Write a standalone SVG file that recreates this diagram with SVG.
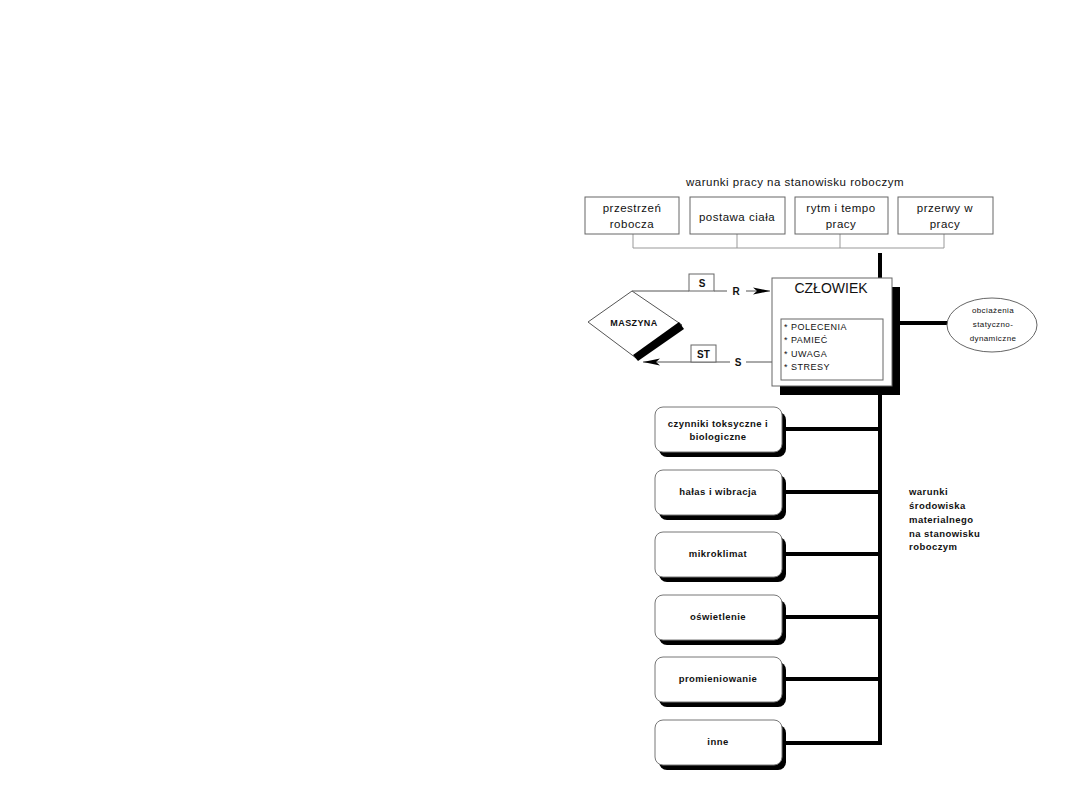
<svg xmlns="http://www.w3.org/2000/svg" width="1080" height="810" viewBox="0 0 1080 810">
<style>
.t{font-family:"Liberation Sans",Arial,sans-serif;fill:#111}
.reg{font-size:11.5px;letter-spacing:0.5px}
.lst{font-size:9px;letter-spacing:0.5px}
.b{font-weight:bold;font-size:9.5px;letter-spacing:0.45px}
.box{fill:#fff;stroke:#666;stroke-width:1}
.rbox{fill:#fff;stroke:#777;stroke-width:1}
.sh{fill:#000}
.thin{stroke:#999;stroke-width:1;fill:none}
.thick{stroke:#000;stroke-width:4;fill:none}
.ln{stroke:#555;stroke-width:1;fill:none}
</style>
<defs>
<marker id="arr" viewBox="0 0 18 8" refX="17" refY="4" markerWidth="18" markerHeight="8" markerUnits="userSpaceOnUse" orient="auto">
<path d="M0,0.5 L17,4 L0,7.5 L4,4 Z" fill="#000"/>
</marker>
</defs>
<rect width="1080" height="810" fill="#fff"/>

<text class="t reg" x="795" y="186" text-anchor="middle">warunki pracy na stanowisku roboczym</text>

<g id="connectors">
<path class="thin" d="M633,234 V248 H944 V234 M737,234 V248 M840,234 V248"/>
<path class="thick" d="M880,253 V743 H782"/>
<path class="thick" d="M782,429 H880 M782,492 H880 M782,554 H880 M782,617 H880 M782,679 H880"/>
<path class="thick" d="M892,323 H948"/>
<path class="ln" d="M632,291 H689 M714,291 H727" />
<path class="ln" d="M746,291 H770" marker-end="url(#arr)"/>
<path class="ln" d="M772,362 H746 M730,362 H643" marker-end="url(#arr)"/>
</g>

<g id="n-przestrzen"><rect class="box" x="585" y="197" width="94" height="37"/>
<text class="t reg" x="632" y="212" text-anchor="middle">przestrzeń</text>
<text class="t reg" x="632" y="228" text-anchor="middle">robocza</text></g>
<g id="n-postawa"><rect class="box" x="690" y="197" width="95" height="37"/>
<text class="t reg" x="737" y="221" text-anchor="middle">postawa ciała</text></g>
<g id="n-rytm"><rect class="box" x="795" y="197" width="93" height="37"/>
<text class="t reg" x="841" y="212" text-anchor="middle">rytm i tempo</text>
<text class="t reg" x="841" y="228" text-anchor="middle">pracy</text></g>
<g id="n-przerwy"><rect class="box" x="898" y="197" width="95" height="37"/>
<text class="t reg" x="945" y="212" text-anchor="middle">przerwy w</text>
<text class="t reg" x="945" y="228" text-anchor="middle">pracy</text></g>

<g id="n-s1"><rect class="box" x="689" y="274" width="25" height="17"/>
<text class="t" x="702" y="287" text-anchor="middle" font-size="10" font-weight="bold">S</text></g>
<text class="t" x="736" y="295" text-anchor="middle" font-size="10" font-weight="bold">R</text>
<g id="n-st"><rect class="box" x="691" y="345" width="25" height="17"/>
<text class="t" x="703.5" y="358" text-anchor="middle" font-size="10" font-weight="bold">ST</text></g>
<text class="t" x="738" y="366" text-anchor="middle" font-size="10" font-weight="bold">S</text>

<g id="n-maszyna">
<polygon points="632,291 682,325 636,358 588,322" fill="#fff" stroke="#555" stroke-width="1"/>
<polygon points="679,322 684,329 638,361 633,355" fill="#000"/>
<text class="t" x="634" y="326" text-anchor="middle" font-size="9" font-weight="bold" letter-spacing="0.4">MASZYNA</text>
</g>

<g id="n-czlowiek">
<rect class="sh" x="780" y="287" width="120" height="108"/>
<rect class="box" x="772" y="278" width="120" height="108"/>
<text class="t" x="831" y="293" text-anchor="middle" font-size="14">CZŁOWIEK</text>
<rect class="box" x="781" y="319" width="102" height="61"/>
<text class="t lst" x="784" y="330">* POLECENIA</text>
<text class="t lst" x="784" y="343">* PAMIEĆ</text>
<text class="t lst" x="784" y="357">* UWAGA</text>
<text class="t lst" x="784" y="370">* STRESY</text>
</g>

<g id="n-obciazenia">
<ellipse cx="992" cy="325" rx="45" ry="27" fill="#fff" stroke="#666" stroke-width="1"/>
<text class="t" x="993" y="313" text-anchor="middle" font-size="8" letter-spacing="0.4">obciażenia</text>
<text class="t" x="993" y="327" text-anchor="middle" font-size="8" letter-spacing="0.4">statyczno-</text>
<text class="t" x="993" y="341" text-anchor="middle" font-size="8" letter-spacing="0.4">dynamiczne</text>
</g>

<g id="n-czynniki"><rect class="sh" x="659" y="412" width="127" height="45" rx="8"/><rect class="rbox" x="655" y="407" width="127" height="45" rx="8"/>
<text class="t b" x="718" y="427" text-anchor="middle">czynniki toksyczne i</text>
<text class="t b" x="718" y="440" text-anchor="middle">biologiczne</text></g>
<g id="n-halas"><rect class="sh" x="659" y="475" width="127" height="45" rx="8"/><rect class="rbox" x="655" y="470" width="127" height="45" rx="8"/>
<text class="t b" x="718" y="495" text-anchor="middle">hałas i wibracja</text></g>
<g id="n-mikroklimat"><rect class="sh" x="659" y="537" width="127" height="45" rx="8"/><rect class="rbox" x="655" y="532" width="127" height="45" rx="8"/>
<text class="t b" x="718" y="557" text-anchor="middle">mikroklimat</text></g>
<g id="n-oswietlenie"><rect class="sh" x="659" y="600" width="127" height="45" rx="8"/><rect class="rbox" x="655" y="595" width="127" height="45" rx="8"/>
<text class="t b" x="718" y="620" text-anchor="middle">oświetlenie</text></g>
<g id="n-promieniowanie"><rect class="sh" x="659" y="662" width="127" height="45" rx="8"/><rect class="rbox" x="655" y="657" width="127" height="45" rx="8"/>
<text class="t b" x="718" y="682" text-anchor="middle">promieniowanie</text></g>
<g id="n-inne"><rect class="sh" x="659" y="725" width="127" height="45" rx="8"/><rect class="rbox" x="655" y="720" width="127" height="45" rx="8"/>
<text class="t b" x="718" y="745" text-anchor="middle">inne</text></g>

<g id="n-warunki-srod">
<text class="t b" x="909" y="495">warunki</text>
<text class="t b" x="909" y="509">środowiska</text>
<text class="t b" x="909" y="523">materialnego</text>
<text class="t b" x="909" y="537">na stanowisku</text>
<text class="t b" x="909" y="550">roboczym</text>
</g>
</svg>
